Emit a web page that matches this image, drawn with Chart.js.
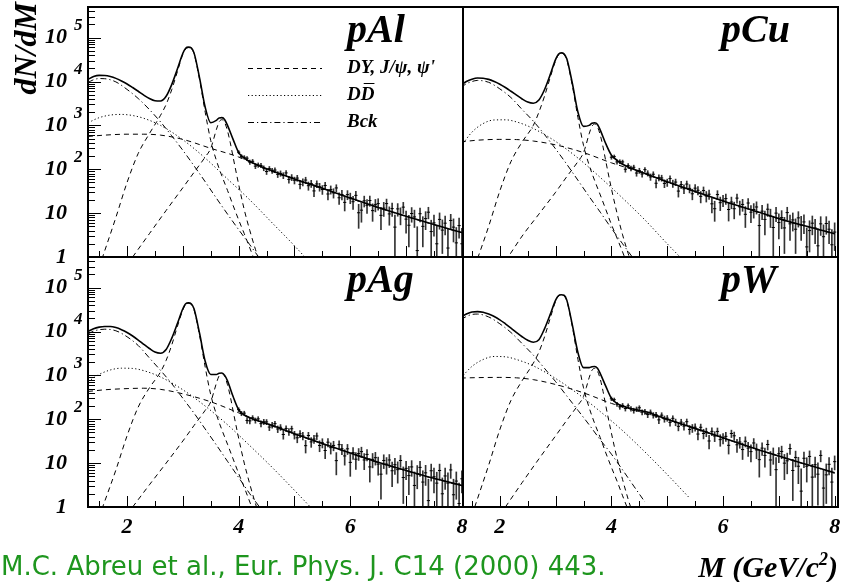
<!DOCTYPE html>
<html>
<head>
<meta charset="utf-8">
<title>Dimuon mass spectra</title>
<script src="https://cdn.jsdelivr.net/npm/chart.js@4.4.1/dist/chart.umd.min.js"></script>
<style>
  body { margin: 0; background: #fff; }
  #page { position: relative; width: 847px; height: 582px; overflow: hidden; background: #fff; }
  #page canvas { position: absolute; left: 0; top: 0; }
  .cite { position: absolute; left: 1px; top: 553px; font: 26px/1 "DejaVu Sans", sans-serif; color: #1e961e; white-space: nowrap; }
  .xtitle { position: absolute; right: 9px; top: 552px; font: bold italic 30px/1 "Liberation Serif", "Times New Roman", serif; white-space: nowrap; }
  .xtitle sup { font-size: 18px; vertical-align: 12px; line-height: 0; }
</style>
</head>
<body>
<div id="page">
  <canvas id="cAl" width="847" height="582"></canvas>
  <canvas id="cCu" width="847" height="582"></canvas>
  <canvas id="cAg" width="847" height="582"></canvas>
  <canvas id="cW" width="847" height="582"></canvas>
  <div class="cite">M.C. Abreu et al., Eur. Phys. J. C14 (2000) 443.</div>
  <div class="xtitle">M (GeV/c<sup>2</sup>)</div>
</div>
<script>
// mass grids (GeV/c^2) for each fitted component
const totalMass = [1.3,1.4,1.5,1.6,1.7,1.8,1.9,2.0,2.1,2.2,2.3,2.4,2.5,2.6,2.7,2.8,2.9,3.0,3.05,3.1,3.15,3.2,3.3,3.4,3.5,3.6,3.65,3.7,3.75,3.8,3.9,4.0,4.1,4.2,4.4,4.6,5.0,5.5,6.0,6.5,7.0,7.5,8.0];
const bckMass = [1.3,1.4,1.5,1.6,1.8,2.0,2.2,2.4,2.6,2.8,3.0,3.2,3.4,3.6,3.8,4.0,4.2,4.4,4.6];
const ddMass = [1.3,1.5,1.7,1.9,2.1,2.3,2.6,3.0,3.4,3.8,4.2,4.6,5.0,5.4];
const dyMass = [1.3,1.6,2.0,2.3,2.6,3.0,3.5,4.0,4.5,5.0,5.5,6.0,6.5,7.0,7.5,8.0];
const jpsiMass = [1.55,1.8,2.0,2.2,2.4,2.6,2.7,2.8,2.9,3.0,3.05,3.1,3.15,3.2,3.3,3.4,3.5,3.6,3.7,3.8,3.9,4.0,4.1,4.2,4.3];
const psipMass = [2.1,2.4,2.7,3.0,3.2,3.4,3.5,3.55,3.6,3.65,3.7,3.75,3.8,3.85,3.9,4.0,4.1,4.2,4.3,4.4];
const dataMass = [4.00,4.05,4.10,4.15,4.20,4.25,4.30,4.35,4.40,4.45,4.50,4.55,4.60,4.65,4.70,4.75,4.80,4.85,4.90,4.95,
  5.00,5.05,5.10,5.15,5.20,5.25,5.30,5.35,5.40,5.45,5.50,5.55,5.60,5.65,5.70,5.75,5.80,5.85,5.90,5.95,
  6.00,6.05,6.10,6.15,6.20,6.25,6.30,6.35,6.40,6.45,6.50,6.55,6.60,6.65,6.70,6.75,6.80,6.85,6.90,6.95,
  7.00,7.05,7.10,7.15,7.20,7.25,7.30,7.35,7.40,7.45,7.50,7.55,7.60,7.65,7.70,7.75,7.80,7.85,7.90,7.95,8.00];

// p-Al
const alTotal = [11200,13000,13800,13700,13000,11800,10300,8800,7300,6000,4900,4100,3650,3600,4600,8500,19000,44000,57500,61000,58500,45000,12000,2600,1150,1300,1480,1500,1350,1000,480,240,180,150,115,92,60,37,22,13.5,8.5,5.5,3.6];
const alBck = [9500,11000,11700,11600,9800,6600,4100,2300,1200,580,270,120,52,22,9.5,4.2,1.9,0.85,0.4];
const alDd = [1150,1500,1720,1780,1680,1450,1000,470,180,60,20,6,1.8,0.5];
const alDy = [560,600,630,630,600,480,300,190,100,59,36.5,21.7,13.3,8.4,5.45,3.57];
const alJpsi = [0.9,8,50,230,650,1700,3000,6500,16500,42000,55500,59000,56500,43000,11000,2000,450,160,70,33,15,7,3.4,1.6,0.75];
const alPsip = [1,3.4,11.5,38,85,190,300,480,800,1200,1350,1150,750,400,190,45,12,4,1.5,0.6];
const alData = [245,196,187,179,145,152,118,125,122,106,89,103,93,96,76.5,80.5,72.3,82.6,58.7,65.4,
  56.2,63,45.2,51,56.7,42.2,47.2,32.1,46.3,39.7,34.6,42.7,27.3,34.4,29,37.5,22.4,26.5,17.6,26.4,
  22.5,18.2,25.4,10.2,11.7,19.1,15.1,19.4,11.4,15.6,16.5,8.9,13,16.5,9.6,12.7,4.8,12.5,9.3,13.7,
  7.3,5.3,9.8,8.2,1.4,9.7,5,7.5,10.5,3.8,6,2,7.2,4.1,5.9,1.6,6.8,4.8,2.1,5.2,2];
const alErr = [20,18.7,17.4,16.6,15.9,15.5,14.8,14.4,13.9,13.5,13.1,12.7,12.5,12.1,11.8,11.4,11.2,10.9,10.5,10.3,
  10,9.8,9.5,9.2,9.1,9,8.7,8.5,8.3,8.1,7.9,7.7,7.4,7.3,7,6.9,6.6,6.5,6.4,6.2,
  6.1,6,5.9,5.7,5.5,5.3,5.2,5.1,4.9,4.9,4.8,4.7,4.6,4.4,4.3,4.3,4.2,4,3.9,3.9,
  3.8,3.6,3.6,3.5,3.5,3.4,3.3,3.3,3.1,3.1,3,3,2.9,2.9,2.7,2.7,2.6,2.6,2.6,2.5,2.5];

// p-Cu
const cuTotal = [8300,10000,11300,12000,11900,11200,10000,8700,7300,6000,4900,4000,3400,3200,3800,6500,14000,32000,42000,45000,43000,33000,9000,2000,950,1000,1120,1150,1050,780,380,210,160,130,100,80,52,31,19,12,7.5,5,3.4];
const cuBck = [7300,8900,10000,10600,9600,6800,4300,2300,1250,620,290,130,56,24,10.5,4.5,2.0,0.9,0.4];
const cuDd = [330,700,1100,1330,1340,1200,850,430,180,65,22,7,2,0.6];
const cuDy = [420,460,480,475,440,360,240,140,88,51,30.6,18.8,11.9,7.4,4.95,3.37];
const cuJpsi = [0.6,5,32,150,420,1000,2000,4600,12000,30000,40000,43500,41000,31000,8000,1500,350,125,55,26,12,5.5,2.7,1.3,0.6];
const cuPsip = [0.8,3,9.5,30,68,150,240,380,640,950,1080,920,600,320,150,36,10,3.2,1.2,0.5];
const cuData = [188,194,147,149,147,100,121,105,111,82,93,78,98,81.4,66.9,77,48,64.4,63.3,47.6,
  50.1,61.4,47.5,51,31.8,44.8,35.9,46,36.7,27.6,37.1,33.2,24.1,32.7,24.5,27,16.3,12.6,26.5,17.3,
  19.8,21.5,12.1,17.9,12.6,22,13.9,15.8,9.4,17,10.5,12.1,13.8,5.2,11.1,7.2,12.3,8.5,4.7,10,
  6.1,7.9,4.6,10.3,5.7,7,4.3,7.8,5.4,6.3,1.7,4,5.9,4.6,1.8,5.7,2.9,5.8,4.3,1.9,3.7];
const cuErr = [18.9,17.6,16.4,15.6,15,14.4,13.9,13.5,13,12.7,12.4,12,11.7,11.4,11.1,10.7,10.5,10.3,9.9,9.6,
  9.5,9.2,9,8.7,8.6,8.3,8.1,7.9,7.8,7.5,7.4,7.3,7,6.8,6.6,6.4,6.2,6.1,6,5.9,
  5.7,5.6,5.5,5.3,5.2,5.1,4.9,4.8,4.7,4.6,4.4,4.4,4.3,4.2,4,4,3.9,3.8,3.8,3.6,
  3.5,3.5,3.4,3.3,3.3,3.1,3.1,3,3,2.9,2.9,2.7,2.7,2.6,2.6,2.6,2.5,2.5,2.3,2.3,2.3];

// p-Ag
const agTotal = [10000,11600,12600,13000,13000,12300,11000,9500,7900,6400,5100,4100,3400,3200,3900,7000,15000,33000,43000,45000,43000,33000,9000,2100,1050,1050,1120,1130,1000,750,330,165,125,108,88,72,47,28,17,10.5,6.8,4.5,3.1];
const agBck = [8800,10200,11000,11300,10400,7600,4800,2500,1300,650,300,138,60,26,11,4.7,2.0,0.9,0.4];
const agDd = [720,1050,1330,1460,1440,1280,920,470,200,75,25,8,2.4,0.7];
const agDy = [430,470,500,510,480,380,250,140,78,46,27.5,16.8,10.3,6.7,4.45,3.05];
const agJpsi = [0.9,7,42,190,520,1200,2200,4900,12800,31000,41000,43500,41500,31500,8100,1550,360,130,57,27,12.5,5.8,2.8,1.3,0.6];
const agPsip = [1,3.2,10,32,72,160,250,400,660,980,1100,940,610,330,155,37,10,3.3,1.2,0.5];
const agData = [166,136,138,94,92,108,94,102,79.5,87.7,87,66.4,73.7,79.5,60,65.7,45,61.7,52,60.7,
  44.2,37.8,46.6,41.9,25,42.6,30.5,35.4,41.6,25.2,29.1,19.4,30,22.5,25.3,11.4,26.4,21.3,14.6,21.2,
  10.4,17.4,12.3,16.5,18.3,11.8,15.8,8.2,12.2,13.3,9.5,5.6,11.5,9.5,11.8,6.7,9.2,7.1,11.5,4.7,
  7.6,5.2,8.2,3.1,5.7,8,3.7,6,1.4,6.7,4.9,3.5,6.8,2,5.1,3.5,7,1.9,3.9,1.2,4.4];
const agErr = [16.6,15.6,14.6,14,13.5,13.1,12.7,12.5,12.2,12,11.6,11.3,11,10.7,10.4,10.1,9.9,9.6,9.4,9.1,
  8.9,8.7,8.4,8.2,8,7.8,7.6,7.4,7.2,7,6.9,6.7,6.5,6.4,6.2,6,5.9,5.7,5.6,5.5,
  5.4,5.2,5.1,5,4.8,4.7,4.6,4.5,4.4,4.3,4.2,4.1,4,3.9,3.9,3.8,3.7,3.6,3.5,3.5,
  3.4,3.3,3.2,3.2,3.1,3,3,2.9,2.9,2.8,2.8,2.7,2.7,2.6,2.6,2.5,2.5,2.4,2.4,2.3,2.3];

// p-W
const wTotal = [21000,25000,28000,28500,27500,25000,22000,18500,15000,12000,9500,7600,6300,5700,6500,11500,24000,52000,65500,69000,67000,52000,14000,3300,1500,1500,1580,1600,1450,1100,560,300,230,200,170,150,100,62,38,23,14.5,9.3,6];
const wBck = [18500,22000,24500,25000,21500,15000,9500,5300,2900,1450,720,340,160,75,34,16,7,3,1.3];
const wDd = [870,1600,2300,2700,2650,2300,1650,850,380,150,55,18,5.5,1.6];
const wDy = [870,890,900,880,800,620,400,230,150,98,61,37.5,22.7,14.3,9.2,5.95];
const wJpsi = [1,9,58,270,760,1900,3400,7500,19500,49000,64500,68000,65000,50000,12800,2300,520,185,80,38,17,8,3.9,1.8,0.85];
const wPsip = [1,3.6,12.5,42,95,210,330,530,880,1300,1450,1250,820,430,200,48,13,4.2,1.5,0.6];
const wData = [293,279,220,192,207,176,203,174,158,170,183,145,148,128,145,124,127,97,124,102,
  106,85,105,86,69,86,70,88,58.5,63,66,46,65.6,47.4,51.4,32,53,41.5,52.8,34.3,
  37.2,40.8,25.5,47.4,42,26.2,30.3,20.4,31.6,22,18.3,28.8,20,12,22,15,26.6,11.8,15.8,7.1,
  16.4,18.5,10,11.3,21.5,6.8,13.5,8.5,2.3,12.9,8.5,14.2,4.8,9.2,5.6,15,2.7,5.4,9.4,3.7,10.8];
const wErr = [27.7,25.9,24.3,23.4,22.6,22.2,21.8,21.3,20.8,20.5,20.2,19.8,19.5,19.2,18.7,18.2,17.8,17.4,17,16.5,
  16,15.5,15.2,14.9,14.6,14.1,13.8,13.4,13.1,13,12.6,12.3,12,11.7,11.4,11,10.9,10.6,10.4,10.1,
  9.9,9.6,9.4,9.1,9,8.6,8.5,8.3,8.2,7.8,7.7,7.5,7.4,7.2,7,6.9,6.7,6.6,6.4,6.2,
  6.1,5.9,5.8,5.6,5.6,5.4,5.3,5.1,5.1,5,4.8,4.8,4.6,4.5,4.5,4.3,4.3,4.2,4,4,3.8];

// axis ticks and labels
const massTicks = [1.5,2,2.5,3,3.5,4,4.5,5,5.5,6,6.5,7,7.5,8];
const massLabels = [2,4,6,8];
const yDecades = [0,1,2,3,4,5];
const legendLabels = ['DY, J/\u03c8, \u03c8\'', 'DD', 'Bck'];

const SERIF = '"Liberation Serif", "Times New Roman", serif';
const DASH = [5, 4];
const DOT = [1.2, 2.4];
const DASHDOT = [6, 3, 1.2, 3];

const rootFrame = {
  id: 'rootFrame',
  afterDraw(chart, args, o) {
    const { ctx, chartArea: a } = chart;
    const xs = chart.scales.x, ys = chart.scales.y;
    ctx.save();
    ctx.strokeStyle = '#000';
    ctx.fillStyle = '#000';

    // tick marks drawn inwards
    ctx.lineWidth = 1;
    ctx.beginPath();
    massTicks.forEach(m => {
      const px = Math.round(xs.getPixelForValue(m)) + 0.5;
      if (px < a.left + 2 || px > a.right - 2) return;
      const len = m % 1 === 0 ? 11 : 6;
      ctx.moveTo(px, a.bottom);
      ctx.lineTo(px, a.bottom - len);
    });
    if (o.yAxis) {
      yDecades.forEach(d => {
        const base = Math.pow(10, d);
        const py = Math.round(ys.getPixelForValue(base)) + 0.5;
        if (d > 0) { ctx.moveTo(a.left, py); ctx.lineTo(a.left + 13, py); }
        for (let k = 2; k <= 9; k++) {
          const v = base * k;
          if (v > ys.max) break;
          const pk = Math.round(ys.getPixelForValue(v)) + 0.5;
          ctx.moveTo(a.left, pk); ctx.lineTo(a.left + 7, pk);
        }
      });
    }
    ctx.stroke();

    // frame
    ctx.lineWidth = 2;
    ctx.strokeRect(a.left, a.top, a.right - a.left, a.bottom - a.top);

    // y labels: 1, 10, 10^2 ...
    if (o.yAxis) {
      ctx.textBaseline = 'middle';
      yDecades.forEach(d => {
        const py = ys.getPixelForValue(Math.pow(10, d));
        ctx.font = 'bold italic 22px ' + SERIF;
        ctx.textAlign = 'right';
        ctx.fillText(d === 0 ? '1' : '10', a.left - 21, py);
        if (d > 1) {
          ctx.font = 'bold italic 17px ' + SERIF;
          ctx.textAlign = 'left';
          ctx.fillText(String(d), a.left - 14, py - 12);
        }
      });
    }

    // mass labels
    if (o.xLabels) {
      ctx.font = 'bold italic 22px ' + SERIF;
      ctx.textAlign = 'center';
      ctx.textBaseline = 'middle';
      massLabels.forEach(m => ctx.fillText(String(m), xs.getPixelForValue(m), a.bottom + 20));
    }

    // target name
    ctx.font = 'bold italic 40px ' + SERIF;
    ctx.textAlign = 'left';
    ctx.textBaseline = 'alphabetic';
    ctx.fillText(o.title, o.titleX, a.top + 35);

    // y title
    if (o.yTitle) {
      ctx.save();
      ctx.translate(28, 2);
      ctx.rotate(-Math.PI / 2);
      ctx.font = 'bold italic 32px ' + SERIF;
      ctx.textAlign = 'right';
      ctx.textBaseline = 'middle';
      ctx.fillText('dN/dM', 0, 0);
      ctx.restore();
    }

    // legend
    if (o.legend) {
      const rows = [[DASH, 68], [DOT, 95], [DASHDOT, 122]];
      ctx.lineWidth = 1;
      ctx.font = 'bold italic 19px ' + SERIF;
      ctx.textBaseline = 'middle';
      ctx.textAlign = 'left';
      rows.forEach(([pat, ry], i) => {
        ctx.setLineDash(pat);
        ctx.beginPath();
        ctx.moveTo(248, ry + 0.5);
        ctx.lineTo(322, ry + 0.5);
        ctx.stroke();
        ctx.setLineDash([]);
        ctx.fillText(legendLabels[i], 347, ry);
      });
      // bar over the second D
      const w1 = ctx.measureText('D').width;
      const w2 = ctx.measureText('DD').width;
      ctx.beginPath();
      ctx.moveTo(347 + w1 + 3, 83.5);
      ctx.lineTo(347 + w2, 83.5);
      ctx.stroke();
    }
    ctx.restore();
  }
};

function curve(mass, vals, dash, width) {
  return {
    type: 'line',
    data: mass.map((m, i) => ({ x: m, y: vals[i] })),
    borderColor: '#000',
    borderWidth: width,
    borderDash: dash,
    pointRadius: 0,
    fill: false,
    cubicInterpolationMode: 'monotone',
    capBezierPoints: false
  };
}

const panels = [
  { canvas: 'cAl', box: [88, 7, 463, 257], range: [1.30, 8.02], title: 'pAl', titleX: 347,
    total: alTotal, bck: alBck, dd: alDd, dy: alDy, jpsi: alJpsi, psip: alPsip, data: alData, err: alErr,
    yAxis: true, xLabels: false, legend: true, yTitle: true },
  { canvas: 'cCu', box: [463, 7, 838, 257], range: [1.34, 8.06], title: 'pCu', titleX: 721,
    total: cuTotal, bck: cuBck, dd: cuDd, dy: cuDy, jpsi: cuJpsi, psip: cuPsip, data: cuData, err: cuErr,
    yAxis: false, xLabels: false, legend: false, yTitle: false },
  { canvas: 'cAg', box: [88, 257, 463, 507], range: [1.30, 8.02], title: 'pAg', titleX: 347,
    total: agTotal, bck: agBck, dd: agDd, dy: agDy, jpsi: agJpsi, psip: agPsip, data: agData, err: agErr,
    yAxis: true, xLabels: true, legend: false, yTitle: false },
  { canvas: 'cW', box: [463, 257, 838, 507], range: [1.34, 8.06], title: 'pW', titleX: 721,
    total: wTotal, bck: wBck, dd: wDd, dy: wDy, jpsi: wJpsi, psip: wPsip, data: wData, err: wErr,
    yAxis: false, xLabels: true, legend: false, yTitle: false }
];

panels.forEach(p => {
  const [l, t, r, b] = p.box;
  new Chart(document.getElementById(p.canvas), {
    type: 'line',
    data: {
      datasets: [
        curve(totalMass, p.total, [], 1.6),
        curve(bckMass, p.bck, DASHDOT, 1),
        curve(ddMass, p.dd, DOT, 1),
        curve(dyMass, p.dy, DASH, 1),
        curve(jpsiMass, p.jpsi, DASH, 1),
        curve(psipMass, p.psip, DASH, 1),
        {
          type: 'scatter',
          data: dataMass.map((m, i) => ({ x: m, y: p.data[i] })),
          pointStyle: 'line',
          pointRadius: 1.6,
          borderWidth: 1,
          borderColor: '#000',
          showLine: false
        },
        {
          type: 'bar',
          data: dataMass.map((m, i) => ({ x: m, y: [Math.max(p.data[i] - p.err[i], 0.3), p.data[i] + p.err[i]] })),
          backgroundColor: '#333',
          barThickness: 1
        }
      ]
    },
    options: {
      responsive: false,
      maintainAspectRatio: false,
      devicePixelRatio: 1,
      animation: false,
      events: [],
      layout: { padding: { left: l, top: t, right: 847 - r, bottom: 582 - b } },
      scales: {
        x: { type: 'linear', min: p.range[0], max: p.range[1], offset: false, display: false },
        y: { type: 'logarithmic', min: 1, max: 5e5, display: false }
      },
      plugins: {
        legend: { display: false },
        tooltip: { enabled: false },
        rootFrame: p
      }
    },
    plugins: [rootFrame]
  });
});
</script>
</body>
</html>
